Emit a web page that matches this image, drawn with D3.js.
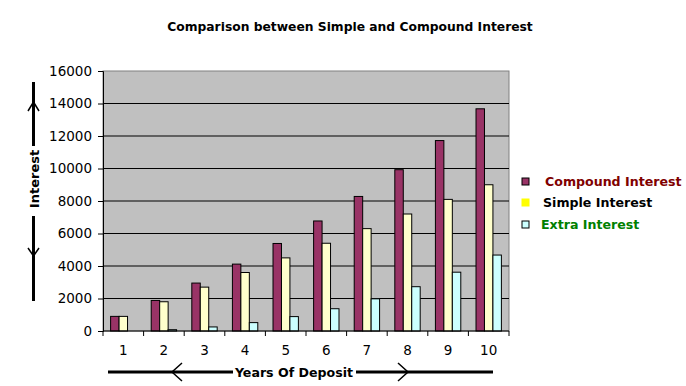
<!DOCTYPE html>
<html>
<head>
<meta charset="utf-8">
<script src="https://cdn.jsdelivr.net/npm/d3@7"></script>
<style>
  body { margin: 0; background: #fff; }
  svg text { font-family: "DejaVu Sans", Verdana, sans-serif; }
</style>
</head>
<body>
<div id="chart"></div>
<script>
// data
const years = ["1", "2", "3", "4", "5", "6", "7", "8", "9", "10"];
const compound = [900, 1881, 2950, 4116, 5386, 6771, 8280, 9926, 11719, 13674];
const simple = [900, 1800, 2700, 3600, 4500, 5400, 6300, 7200, 8100, 9000];
const extra = [0, 81, 250, 516, 886, 1371, 1980, 2726, 3619, 4674];
const yTicks = [0, 2000, 4000, 6000, 8000, 10000, 12000, 14000, 16000];

const seriesNames = ["Compound Interest", "Simple Interest", "Extra Interest"];
const seriesFill = ["#993366", "#FFFFCC", "#CCFFFF"];
const legendText = ["#800000", "#000000", "#008000"];

const W = 686, H = 386;
const margin = { top: 71, left: 103, right: 177, bottom: 55 };
const width = W - margin.left - margin.right;
const height = H - margin.top - margin.bottom;

const svg = d3.select("#chart").append("svg")
  .attr("width", W)
  .attr("height", H);

svg.append("text")
  .attr("x", 350).attr("y", 31)
  .attr("text-anchor", "middle")
  .attr("font-size", 12.3)
  .attr("font-weight", "bold")
  .text("Comparison between Simple and Compound Interest");

const g = svg.append("g")
  .attr("transform", "translate(" + margin.left + "," + margin.top + ")");

const x = d3.scaleBand().domain(years).range([0, width]);
const xs = d3.scaleBand().domain([0, 1, 2]).range([0, x.bandwidth()]).paddingOuter(0.9);
const y = d3.scaleLinear().domain([0, 16000]).range([height, 0]);

// plot area
g.append("rect")
  .attr("width", width).attr("height", height)
  .attr("fill", "#C0C0C0")
  .attr("stroke", "#808080");

g.append("g")
  .selectAll("line")
  .data(yTicks.slice(1, -1))
  .enter().append("line")
  .attr("x1", 0).attr("x2", width)
  .attr("y1", d => y(d)).attr("y2", d => y(d))
  .attr("stroke", "#000");

// bars
const table = years.map((yr, i) => ({ year: yr, vals: [compound[i], simple[i], extra[i]] }));

const groups = g.append("g").selectAll("g")
  .data(table)
  .enter().append("g")
  .attr("transform", d => "translate(" + x(d.year) + ",0)");

groups.selectAll("rect")
  .data(d => d.vals)
  .enter().append("rect")
  .attr("x", (d, i) => xs(i))
  .attr("y", d => y(d))
  .attr("width", xs.bandwidth())
  .attr("height", d => height - y(d))
  .attr("fill", (d, i) => seriesFill[i])
  .attr("stroke", "#000")
  .attr("stroke-width", 1);

// axes
const yAxis = g.append("g")
  .call(d3.axisLeft(y).tickValues(yTicks).tickSize(5).tickPadding(6).tickFormat(d3.format("d")));
yAxis.select(".domain").attr("stroke", "#000");
yAxis.selectAll("text")
  .attr("font-family", "'Liberation Sans', Arial, sans-serif")
  .attr("font-size", 13.5);

const xAxis = g.append("g")
  .attr("transform", "translate(0," + height + ")")
  .call(d3.axisBottom(x).tickSize(0).tickPadding(14));
xAxis.select(".domain").remove();
xAxis.selectAll("text")
  .attr("font-family", "'Liberation Sans', Arial, sans-serif")
  .attr("font-size", 13.5);

g.append("line")
  .attr("x1", 0).attr("x2", width)
  .attr("y1", height).attr("y2", height)
  .attr("stroke", "#000");

g.append("g").selectAll("line")
  .data(years.concat(["end"]))
  .enter().append("line")
  .attr("x1", (d, i) => i * x.step()).attr("x2", (d, i) => i * x.step())
  .attr("y1", height).attr("y2", height + 5)
  .attr("stroke", "#000");

// y axis title with arrows
svg.append("text")
  .attr("transform", "translate(39,179) rotate(-90)")
  .attr("text-anchor", "middle")
  .attr("font-size", 13)
  .attr("font-weight", "bold")
  .text("Interest");

const arrow = svg.append("g").attr("stroke", "#000").attr("fill", "none");
arrow.append("line").attr("x1", 33.5).attr("x2", 33.5).attr("y1", 82).attr("y2", 146).attr("stroke-width", 3);
arrow.append("line").attr("x1", 33.5).attr("x2", 33.5).attr("y1", 216).attr("y2", 301).attr("stroke-width", 3);
arrow.append("path").attr("d", "M28,111 L33.5,102 L39,111").attr("stroke-width", 1.5);
arrow.append("path").attr("d", "M28,248 L33.5,256 L39,248").attr("stroke-width", 1.5);

// x axis title with arrows
svg.append("text")
  .attr("x", 294).attr("y", 377)
  .attr("text-anchor", "middle")
  .attr("font-size", 12.6)
  .attr("font-weight", "bold")
  .text("Years Of Deposit");

arrow.append("line").attr("x1", 108).attr("x2", 233).attr("y1", 372).attr("y2", 372).attr("stroke-width", 3);
arrow.append("line").attr("x1", 356).attr("x2", 493).attr("y1", 372).attr("y2", 372).attr("stroke-width", 3);
arrow.append("path").attr("d", "M182,363 L172,372 L182,381").attr("stroke-width", 1.5);
arrow.append("path").attr("d", "M398,363 L408,372 L398,381").attr("stroke-width", 1.5);

// legend
const legend = svg.append("g").selectAll("g")
  .data(seriesNames)
  .enter().append("g")
  .attr("transform", (d, i) => "translate(522," + [182, 203, 225][i] + ")");

legend.append("rect")
  .attr("x", 0).attr("y", -4)
  .attr("width", 7).attr("height", 7)
  .attr("fill", (d, i) => i === 1 ? "#FFFF00" : seriesFill[i])
  .attr("stroke", (d, i) => i === 1 ? "#FFFF00" : "#000");

legend.append("text")
  .attr("x", (d, i) => [23, 21, 19][i])
  .attr("y", 4)
  .attr("font-size", 12.6)
  .attr("font-weight", "bold")
  .attr("fill", (d, i) => legendText[i])
  .text(d => d);
</script>
</body>
</html>
